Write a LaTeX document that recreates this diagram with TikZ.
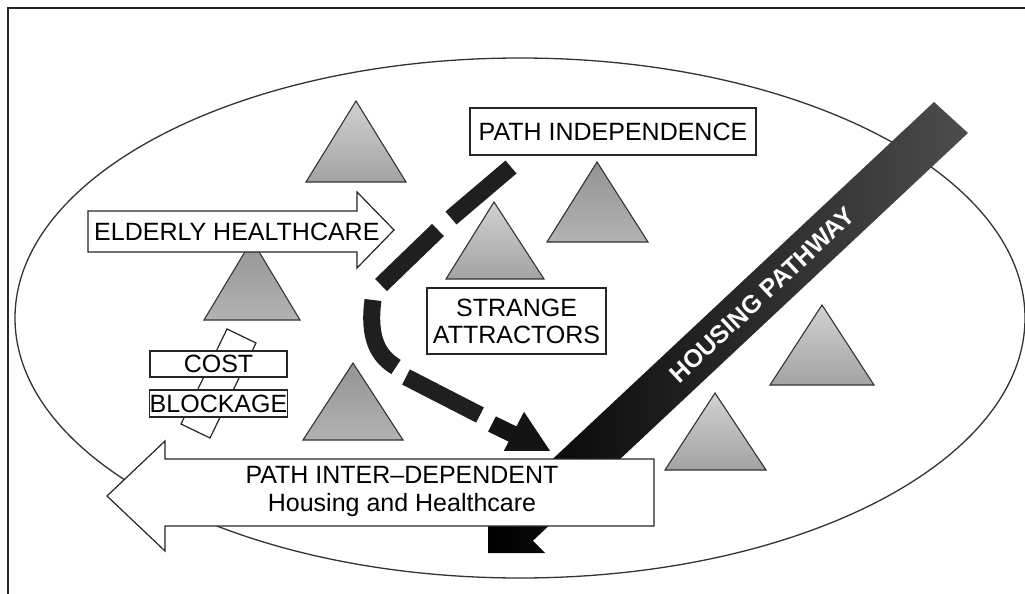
\documentclass[tikz,border=0pt]{standalone}
\usepackage{fontspec}
\setmainfont{Liberation Sans}
\begin{document}
\begin{tikzpicture}[x=1pt,y=-1pt,
  tri/.style={draw=black!80, line width=1.1pt, top color=black!18, bottom color=black!36},
  tridark/.style={draw=black!80, line width=1.1pt, top color=black!42, bottom color=black!30},
  boxed/.style={draw=black!85, fill=white, line width=1.2pt, inner sep=0pt, align=center,
    font=\fontsize{25}{27}\selectfont},
  shapeline/.style={draw=black!85, fill=white, line width=1.2pt},
  lbl/.style={inner sep=0pt, align=center, font=\fontsize{25}{28}\selectfont},
  dashseg/.style={draw=black!88, line width=17pt}
]
\useasboundingbox (0,0) rectangle (1025,594);
\fill[white] (0,0) rectangle (1025,594);
% frame
\draw[black!85, line width=1.2pt] (8,600) -- (8,8) -- (1030,8);
% ellipse
\draw[black!80, line width=1.3pt] (520,318) ellipse [x radius=505pt, y radius=260pt];
% triangles
\draw[tri] (356,101) -- (306,182) -- (406,182) -- cycle;
\draw[tridark] (252,240) -- (204,320) -- (300,320) -- cycle;
\draw[tri] (494,202) -- (446,279) -- (544,279) -- cycle;
\draw[tridark] (597,162) -- (547,242) -- (648,242) -- cycle;
\draw[tridark] (353,363) -- (303,440) -- (403,440) -- cycle;
\draw[tri] (715,393) -- (665,470) -- (766,470) -- cycle;
\draw[tri] (822,305) -- (770,385) -- (874,385) -- cycle;
% housing pathway bar
\shade[left color=black, right color=black!70]
  (488,553) -- (488,496) -- (500.2,508.2) -- (934,102) -- (968,133) -- (532.8,540.8) -- (545,553) -- cycle;
\node[rotate=43, text=white, inner sep=0pt, font=\bfseries\fontsize{25}{28}\selectfont] (hp) at (762,295) {HOUSING PATHWAY};
% dashed curved arrow
\draw[dashseg] (511,167) -- (451,218);
\draw[dashseg] (438,230) -- (381,285);
\draw[dashseg] (373,300) .. controls (368,338) and (378,356) .. (396,367);
\draw[dashseg] (406,377) -- (480,415);
\begin{scope}
\clip (0,0) rectangle (1025,450);
\fill[black!92] (495.9,416.4) -- (516.4,426.4) -- (524,411.8) -- (552.6,454.7) -- (501,456.3) -- (508.6,441.6) -- (488.1,431.6) -- cycle;
\end{scope}
% boxes
\node[boxed, minimum width=286pt, minimum height=47pt] (pi) at (613,131.5) {PATH INDEPENDENCE};
\node[boxed, minimum width=179pt, minimum height=66pt] (sa) at (516.5,321) {STRANGE\\ATTRACTORS};
% elderly healthcare arrow
\draw[shapeline] (88,211) -- (357,211) -- (357,192) -- (394,230) -- (357,268) -- (357,252) -- (88,252) -- cycle;
\node[lbl, anchor=west] (eh) at (94,232) {ELDERLY HEALTHCARE};
% cost blockage
\draw[shapeline] (227,329) -- (256,343) -- (210,438) -- (181,424) -- cycle;
\node[boxed, minimum width=137pt, minimum height=26pt] (cost) at (218.5,364) {COST};
\node[boxed, minimum width=137pt, minimum height=27pt] (blk) at (218.5,403.5) {BLOCKAGE};
% path inter-dependent arrow
\draw[shapeline] (107,496) -- (165,441) -- (165,459) -- (654,459) -- (654,526) -- (165,526) -- (165,551) -- cycle;
\node[lbl] (pid) at (402,491) {PATH INTER--DEPENDENT\\Housing and Healthcare};
\end{tikzpicture}
\end{document}
